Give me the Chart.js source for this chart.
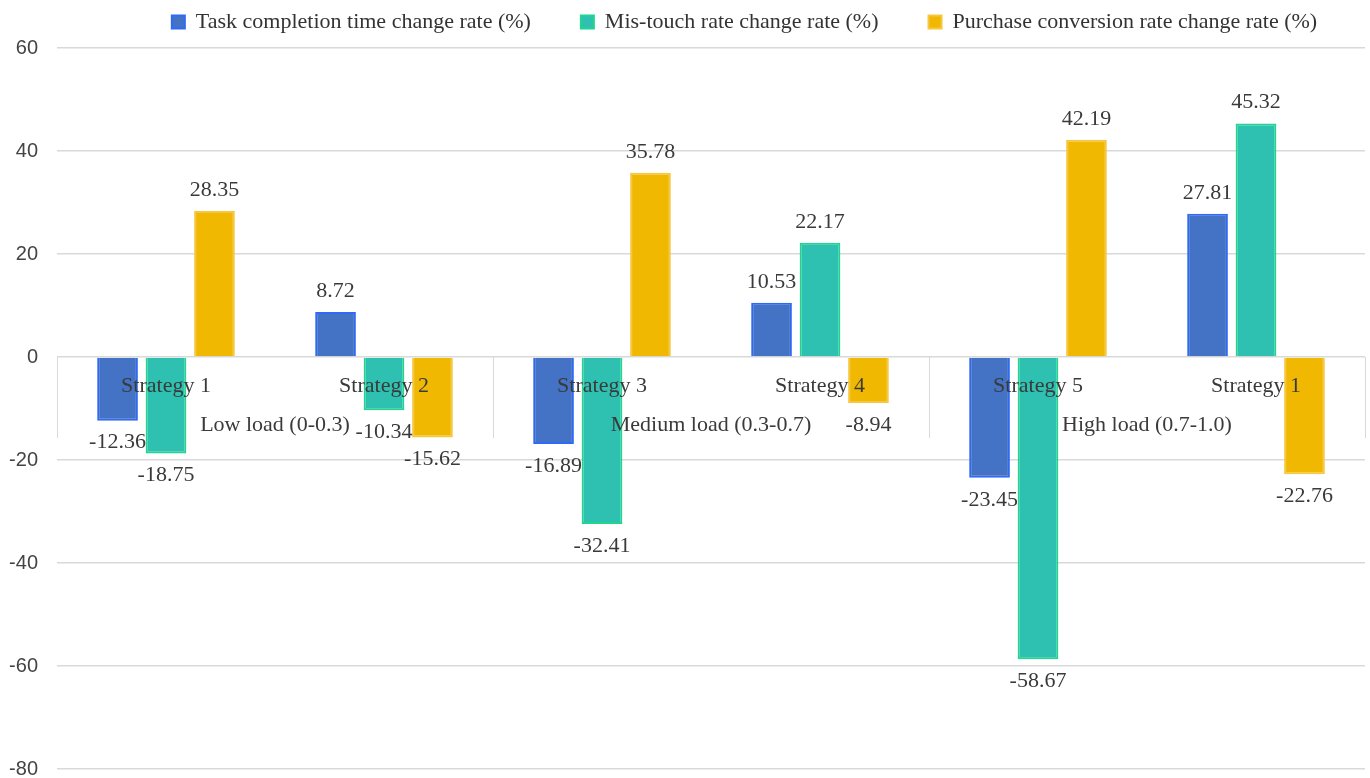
<!DOCTYPE html>
<html>
<head>
<meta charset="utf-8">
<title>Change rates by load level</title>
<script src="https://cdn.jsdelivr.net/npm/chart.js@4.4.1/dist/chart.umd.min.js"></script>
<style>
    html, body { margin: 0; padding: 0; background: #ffffff; overflow: hidden; }
    canvas { display: block; }
</style>
</head>
<body>
<canvas id="loadChart" width="1370" height="778"></canvas>
<script>
// --- Chart data ---
const categories = ['Strategy 1', 'Strategy 2', 'Strategy 3', 'Strategy 4', 'Strategy 5', 'Strategy 1'];
const loadGroups = ['Low load (0-0.3)', 'Medium load (0.3-0.7)', 'High load (0.7-1.0)'];
const taskTimeRate = [-12.36, 8.72, -16.89, 10.53, -23.45, 27.81];
const misTouchRate = [-18.75, -10.34, -32.41, 22.17, -58.67, 45.32];
const purchaseRate = [28.35, -15.62, 35.78, -8.94, 42.19, -22.76];
const yTicks = [60, 40, 20, 0, -20, -40, -60, -80];

const serif = "'Liberation Serif', 'Times New Roman', serif";
const textColor = '#3a3a3a';

document.addEventListener('DOMContentLoaded', function () {

    /**
     * Category axis drawn at the zero line (Excel style):
     * strategy names, load group names and the short group separators.
     */
    const zeroAxisLabels = {
        id: 'zeroAxisLabels',
        afterDatasetsDraw(chart) {
            const { ctx, scales: { x, y } } = chart;
            const zero = y.getPixelForValue(0);
            ctx.save();

            // group separators
            ctx.strokeStyle = '#d9d9d9';
            ctx.lineWidth = 1;
            for (let g = 0; g <= loadGroups.length; g++) {
                const px = Math.round(x.getPixelForValue(g * 2 - 0.5)) + 0.5;
                ctx.beginPath();
                ctx.moveTo(px, zero);
                ctx.lineTo(px, zero + 81);
                ctx.stroke();
            }

            ctx.fillStyle = textColor;
            ctx.font = '22px ' + serif;
            ctx.textAlign = 'center';
            ctx.textBaseline = 'middle';
            categories.forEach((name, i) => {
                ctx.fillText(name, x.getPixelForValue(i), zero + 29);
            });
            loadGroups.forEach((name, g) => {
                const cx = (x.getPixelForValue(g * 2) + x.getPixelForValue(g * 2 + 1)) / 2;
                ctx.fillText(name, cx, zero + 68);
            });
            ctx.restore();
        }
    };

    /**
     * Value labels above positive bars and below negative bars.
     */
    const valueLabels = {
        id: 'valueLabels',
        afterDatasetsDraw(chart) {
            const { ctx } = chart;
            ctx.save();
            ctx.fillStyle = textColor;
            ctx.font = '22px ' + serif;
            ctx.textAlign = 'center';
            ctx.textBaseline = 'middle';
            chart.data.datasets.forEach((ds, di) => {
                chart.getDatasetMeta(di).data.forEach((bar, i) => {
                    const v = ds.data[i];
                    const ty = v >= 0 ? bar.y - 21 : bar.y + 22;
                    ctx.fillText(v.toFixed(2), bar.x, ty);
                });
            });
            ctx.restore();
        }
    };

    /**
     * Layout tweaks: legend sits right of centre near the top edge,
     * and the plot runs down to almost the bottom of the canvas.
     */
    const layoutTweaks = {
        id: 'layoutTweaks',
        afterLayout(chart) {
            if (chart.legend) {
                chart.legend.left += 62;
                chart.legend.right += 62;
                chart.legend.top -= 5;
            }
            const y = chart.scales.y;
            const bottom = chart.height - 9;
            y.bottom = bottom;
            y.height = bottom - y.top;
            chart.chartArea.bottom = bottom;
            chart.chartArea.height = bottom - chart.chartArea.top;
            y.configure();
        }
    };

    new Chart(document.getElementById('loadChart'), {
        type: 'bar',
        data: {
            labels: categories,
            datasets: [{
                label: 'Task completion time change rate (%)',
                data: taskTimeRate,
                backgroundColor: '#4472c4',
                borderColor: '#2f6af5',
                borderWidth: 2
            }, {
                label: 'Mis-touch rate change rate (%)',
                data: misTouchRate,
                backgroundColor: '#2ec0b0',
                borderColor: '#1fd68f',
                borderWidth: 2
            }, {
                label: 'Purchase conversion rate change rate (%)',
                data: purchaseRate,
                backgroundColor: '#f0b800',
                borderColor: '#f7c73f',
                borderWidth: 2
            }]
        },
        options: {
            responsive: false,
            animation: false,
            categoryPercentage: 0.667,
            barPercentage: 0.84,
            layout: { padding: { top: -34, right: 5, bottom: 9, left: 0 } },
            scales: {
                x: { display: false },
                y: {
                    min: -80,
                    max: 60,
                    afterFit: (scale) => { scale.width = 57; },
                    afterBuildTicks: (scale) => {
                        scale.ticks = yTicks.map(v => ({ value: v }));
                    },
                    border: { display: false },
                    grid: { color: '#d9d9d9', lineWidth: 1.5, drawTicks: false },
                    ticks: {
                        padding: 19,
                        color: '#444444',
                        font: { family: "'Liberation Sans', Arial, sans-serif", size: 20, lineHeight: 0.2 }
                    }
                }
            },
            plugins: {
                legend: {
                    position: 'top',
                    labels: {
                        color: '#333333',
                        font: { family: serif, size: 22 },
                        boxWidth: 13,
                        boxHeight: 13,
                        padding: 50
                    }
                },
                tooltip: { enabled: false }
            }
        },
        plugins: [zeroAxisLabels, valueLabels, layoutTweaks]
    });

});
</script>
</body>
</html>
